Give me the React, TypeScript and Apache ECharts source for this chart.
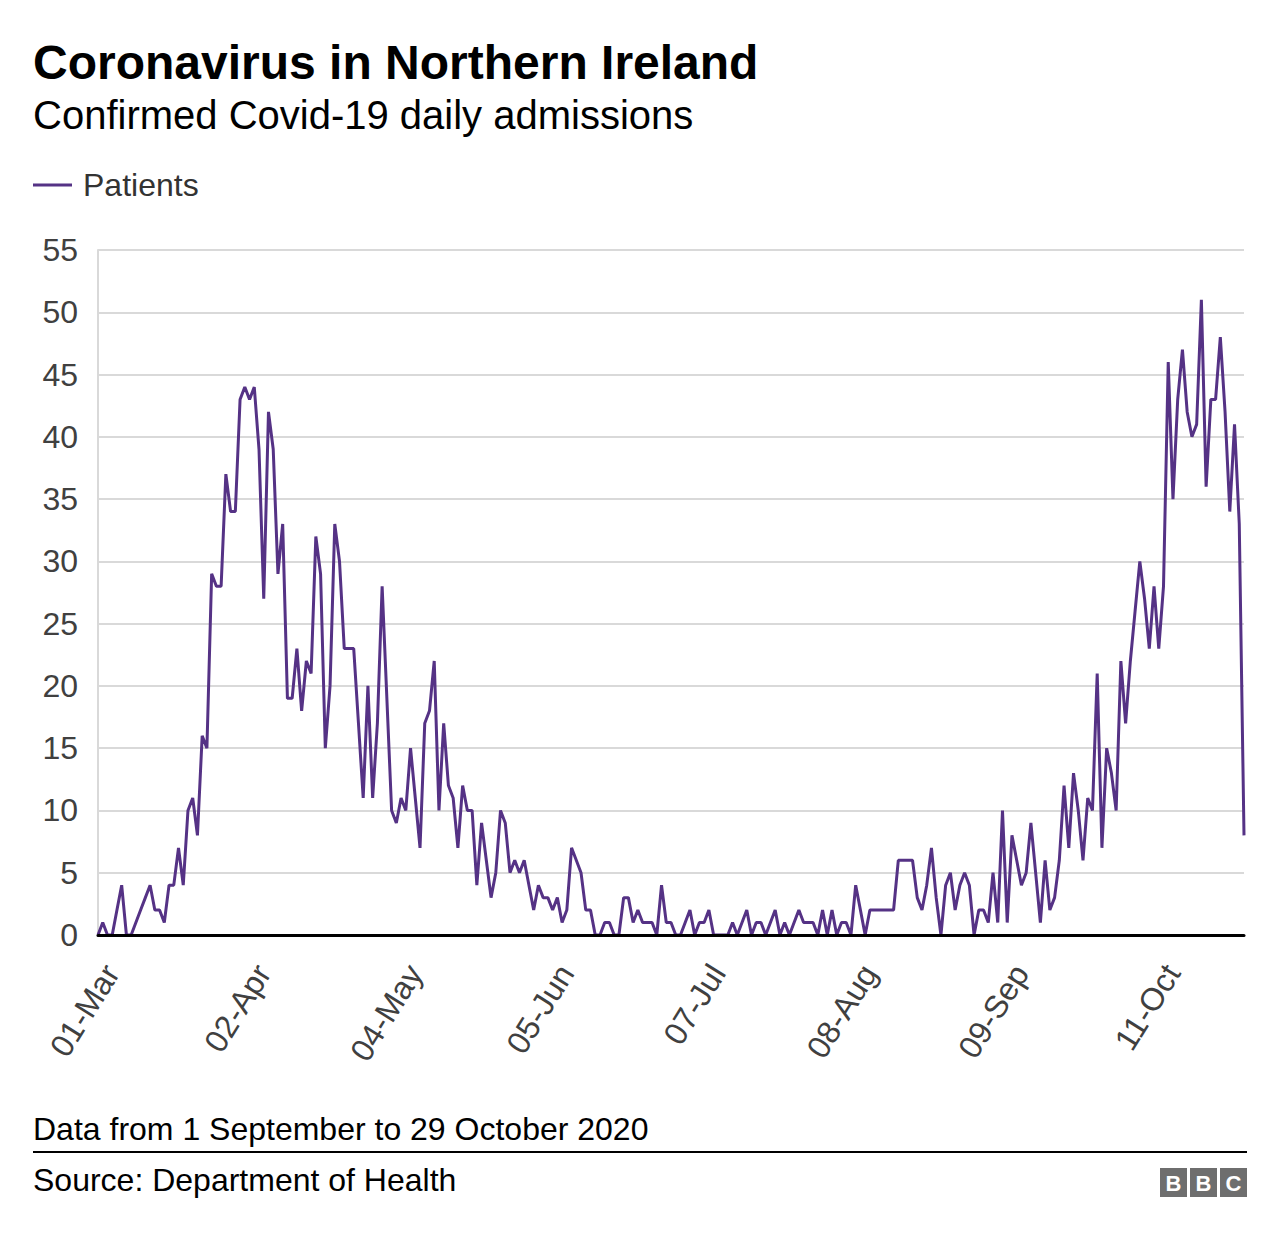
import React, { useEffect, useRef } from "react";
import * as echarts from "echarts";

// Months shown and number of days of each month in the data (1 Mar – 29 Oct 2020)
const MONTHS = ["Mar", "Apr", "May", "Jun", "Jul", "Aug", "Sep", "Oct"];
const DAYS_SHOWN = [31, 30, 31, 30, 31, 31, 30, 29];

// Daily confirmed Covid-19 admissions, month by month
const marValues = [0, 1, 0, 0, 2, 4, 0, 0, 1, 2, 3, 4, 2, 2, 1, 4, 4, 7, 4, 10, 11, 8, 16, 15, 29, 28, 28, 37, 34, 34, 43];
const aprValues = [44, 43, 44, 39, 27, 42, 39, 29, 33, 19, 19, 23, 18, 22, 21, 32, 29, 15, 20, 33, 30, 23, 23, 23, 17, 11, 20, 11, 17, 28];
const mayValues = [19, 10, 9, 11, 10, 15, 11, 7, 17, 18, 22, 10, 17, 12, 11, 7, 12, 10, 10, 4, 9, 6, 3, 5, 10, 9, 5, 6, 5, 6, 4];
const junValues = [2, 4, 3, 3, 2, 3, 1, 2, 7, 6, 5, 2, 2, 0, 0, 1, 1, 0, 0, 3, 3, 1, 2, 1, 1, 1, 0, 4, 1, 1];
const julValues = [0, 0, 1, 2, 0, 1, 1, 2, 0, 0, 0, 0, 1, 0, 1, 2, 0, 1, 1, 0, 1, 2, 0, 1, 0, 1, 2, 1, 1, 1, 0];
const augValues = [2, 0, 2, 0, 1, 1, 0, 4, 2, 0, 2, 2, 2, 2, 2, 2, 6, 6, 6, 6, 3, 2, 4, 7, 3, 0, 4, 5, 2, 4, 5];
const sepValues = [4, 0, 2, 2, 1, 5, 1, 10, 1, 8, 6, 4, 5, 9, 5, 1, 6, 2, 3, 6, 12, 7, 13, 10, 6, 11, 10, 21, 7, 15];
const octValues = [13, 10, 22, 17, 22, 26, 30, 27, 23, 28, 23, 28, 46, 35, 43, 47, 42, 40, 41, 51, 36, 43, 43, 48, 42, 34, 41, 33, 8];

// Axis settings
const Y_MIN = 0;
const Y_MAX = 55;
const Y_STEP = 5;
const LABEL_EVERY = 32; // a date label every 32 days

const TITLE = "Coronavirus in Northern Ireland";
const SUBTITLE = "Confirmed Covid-19 daily admissions";
const SERIES_NAME = "Patients";
const NOTE = "Data from 1 September to 29 October 2020";
const SOURCE = "Source: Department of Health";

const FONT = "'Liberation Sans', Arial, Helvetica, sans-serif";
const PURPLE = "#553285";

function buildCategories(): string[] {
  const out: string[] = [];
  MONTHS.forEach((m, i) => {
    for (let d = 1; d <= DAYS_SHOWN[i]; d++) {
      out.push((d < 10 ? "0" : "") + d + "-" + m);
    }
  });
  return out;
}

export default function App() {
  const ref = useRef<HTMLDivElement>(null);

  useEffect(() => {
    document.body.style.margin = "0";
    if (!ref.current) return;
    const chart = echarts.init(ref.current, null, { renderer: "svg" });

    const categories = buildCategories();
    const values = [
      ...marValues,
      ...aprValues,
      ...mayValues,
      ...junValues,
      ...julValues,
      ...augValues,
      ...sepValues,
      ...octValues,
    ];

    const logoBoxes = ["B", "B", "C"].map((ch, i) => ({
      type: "group",
      left: 1160 + i * 30,
      top: 1168,
      children: [
        { type: "rect", shape: { x: 0, y: 0, width: 27, height: 29 }, style: { fill: "#6e6e6e" } },
        {
          type: "text",
          x: 13.5,
          y: 15,
          style: {
            text: ch,
            fill: "#ffffff",
            font: `bold 22px ${FONT}`,
            align: "center",
            verticalAlign: "middle",
          },
        },
      ],
    }));

    chart.setOption({
      animation: false,
      backgroundColor: "#ffffff",
      textStyle: { fontFamily: FONT },
      grid: { left: 98, right: 36, top: 250, bottom: 305, containLabel: false },
      legend: {
        show: true,
        left: 33,
        top: 169,
        padding: 0,
        icon: "rect",
        itemWidth: 39,
        itemHeight: 3,
        textStyle: { fontSize: 32, color: "#333333", fontFamily: FONT, padding: [0, 0, 0, 6] },
        data: [SERIES_NAME],
      },
      xAxis: {
        type: "category",
        boundaryGap: false,
        data: categories,
        z: 5,
        axisLine: { show: true, lineStyle: { color: "#000000", width: 3 } },
        axisTick: { show: false },
        axisLabel: {
          interval: LABEL_EVERY - 1,
          rotate: 58,
          fontSize: 32,
          color: "#404040",
          fontFamily: FONT,
          margin: 24,
          verticalAlign: "top",
        },
        splitLine: { show: false },
      },
      yAxis: {
        type: "value",
        min: Y_MIN,
        max: Y_MAX,
        interval: Y_STEP,
        axisLine: { show: true, lineStyle: { color: "#d9d9d9", width: 2 } },
        axisTick: { show: false },
        axisLabel: { fontSize: 32, color: "#404040", fontFamily: FONT, margin: 20 },
        splitLine: { show: true, lineStyle: { color: "#d9d9d9", width: 2 } },
      },
      series: [
        {
          name: SERIES_NAME,
          type: "line",
          data: values,
          symbol: "none",
          color: PURPLE,
          lineStyle: { color: PURPLE, width: 3 },
          z: 3,
        },
      ],
      graphic: [
        {
          type: "text",
          x: 33,
          y: 62,
          style: { text: TITLE, fill: "#000000", font: `bold 48px ${FONT}`, verticalAlign: "middle" },
        },
        {
          type: "text",
          x: 33,
          y: 115,
          style: { text: SUBTITLE, fill: "#000000", font: `40px ${FONT}`, verticalAlign: "middle" },
        },
        {
          type: "text",
          x: 33,
          y: 1129,
          style: { text: NOTE, fill: "#000000", font: `32px ${FONT}`, verticalAlign: "middle" },
        },
        {
          type: "rect",
          shape: { x: 33, y: 1151, width: 1214, height: 2 },
          style: { fill: "#000000" },
        },
        {
          type: "text",
          x: 33,
          y: 1180,
          style: { text: SOURCE, fill: "#000000", font: `32px ${FONT}`, verticalAlign: "middle" },
        },
        ...logoBoxes,
      ],
    });

    return () => chart.dispose();
  }, []);

  return <div ref={ref} style={{ width: 1280, height: 1240 }} />;
}
